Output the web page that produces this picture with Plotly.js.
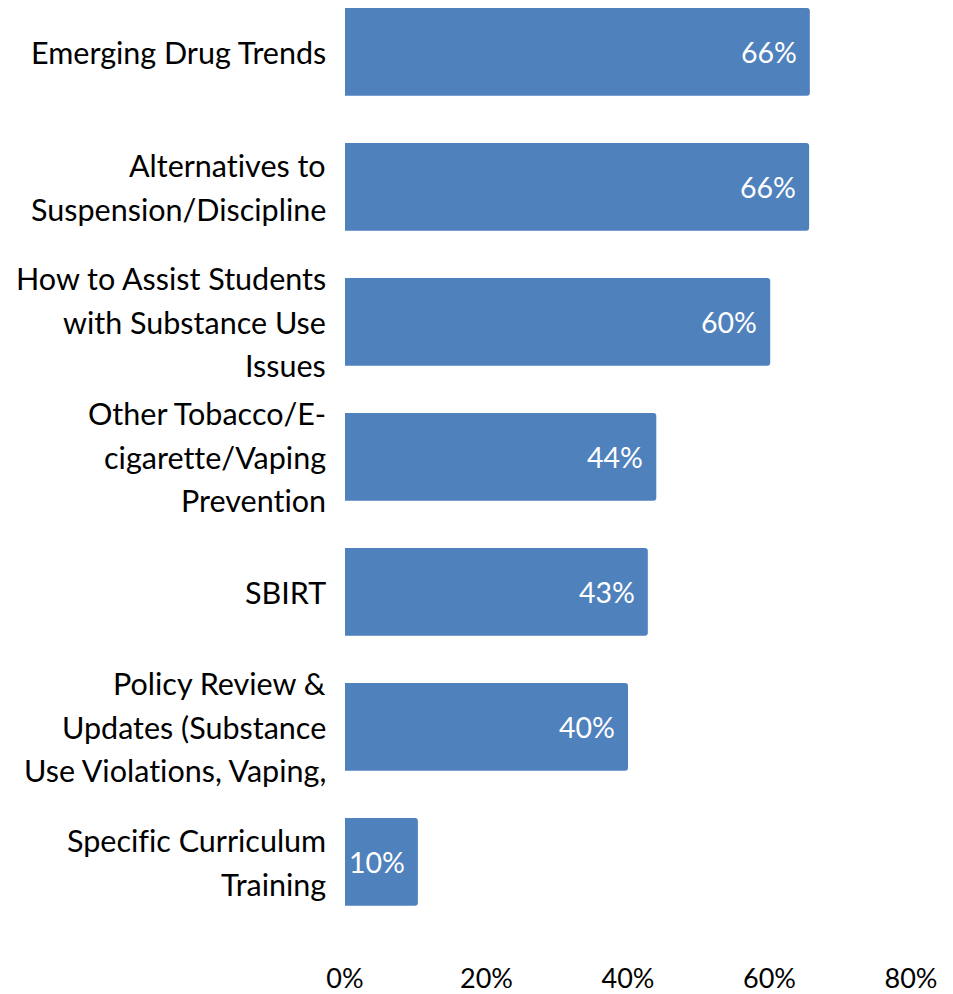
<!DOCTYPE html>
<html>
<head>
<meta charset="utf-8">
<script src="https://cdn.plot.ly/plotly-3.0.1.min.js"></script>
<style>
html,body{margin:0;padding:0;background:#fff;}
#chart{width:953px;height:994px;}
svg text{font-variant-ligatures:none;font-feature-settings:"liga" 0,"clig" 0;}
</style>
</head>
<body>
<div id="chart"></div>
<script>
// Data (top to bottom)
var categories = [
  "Emerging Drug Trends",
  "Alternatives to<br>Suspension/Discipline",
  "How to Assist Students<br>with Substance Use<br>Issues",
  "Other Tobacco/E-<br>cigarette/Vaping<br>Prevention",
  "SBIRT",
  "Policy Review &<br>Updates (Substance<br>Use Violations, Vaping,",
  "Specific Curriculum<br>Training"
];
var values = [65.7, 65.6, 60.1, 44.0, 42.8, 40.0, 10.3];
var valueLabels = ["66%", "66%", "60%", "44%", "43%", "40%", "10%"];
var tickValues = [0, 20, 40, 60, 80];
var tickLabels = ["0%", "20%", "40%", "60%", "80%"];

var FONT = "Lato, 'Open Sans', sans-serif";
var barColor = "#4F81BD";

var trace = {
  type: "bar",
  orientation: "h",
  x: values,
  y: categories,
  marker: {color: barColor, cornerradius: 3},
  hoverinfo: "skip",
  textposition: "none"
};

var annotations = [];
// value labels inside bar ends
for (var i = 0; i < categories.length; i++) {
  annotations.push({
    x: values[i], y: categories[i], xref: "x", yref: "y",
    text: valueLabels[i], showarrow: false,
    xanchor: "right", yanchor: "middle", xshift: -11,
    font: {family: FONT, size: 28.5, color: "#ffffff"}
  });
}
// category labels, one annotation per line for Excel-like line spacing
var lineStep = 43.5;
for (var c = 0; c < categories.length; c++) {
  var lines = categories[c].split("<br>");
  var n = lines.length;
  for (var k = 0; k < n; k++) {
    annotations.push({
      x: 0, y: categories[c], xref: "paper", yref: "y",
      text: lines[k], showarrow: false,
      xanchor: "right", yanchor: "middle", xshift: -17,
      yshift: -(k - (n - 1) / 2) * lineStep,
      font: {family: FONT, size: 30.5, color: "#000000"}
    });
  }
}

var layout = {
  width: 953, height: 994,
  margin: {l: 345, r: 42, t: 0, b: 66, pad: 0},
  paper_bgcolor: "#ffffff", plot_bgcolor: "#ffffff",
  showlegend: false,
  bargap: 0.35,
  font: {family: FONT, color: "#000000"},
  xaxis: {
    range: [0, 80], fixedrange: true,
    tickvals: tickValues, ticktext: tickLabels,
    showgrid: false, zeroline: false, showline: false,
    ticks: "outside", ticklen: 27, tickcolor: "rgba(0,0,0,0)",
    tickfont: {family: FONT, size: 27, color: "#000000"}
  },
  yaxis: {
    type: "category", categoryorder: "array", categoryarray: categories,
    range: [6.489, -0.385], fixedrange: true,
    showticklabels: false, showgrid: false, zeroline: false, showline: false, ticks: ""
  },
  annotations: annotations
};

Plotly.newPlot("chart", [trace], layout, {displayModeBar: false, staticPlot: true});
</script>
</body>
</html>
